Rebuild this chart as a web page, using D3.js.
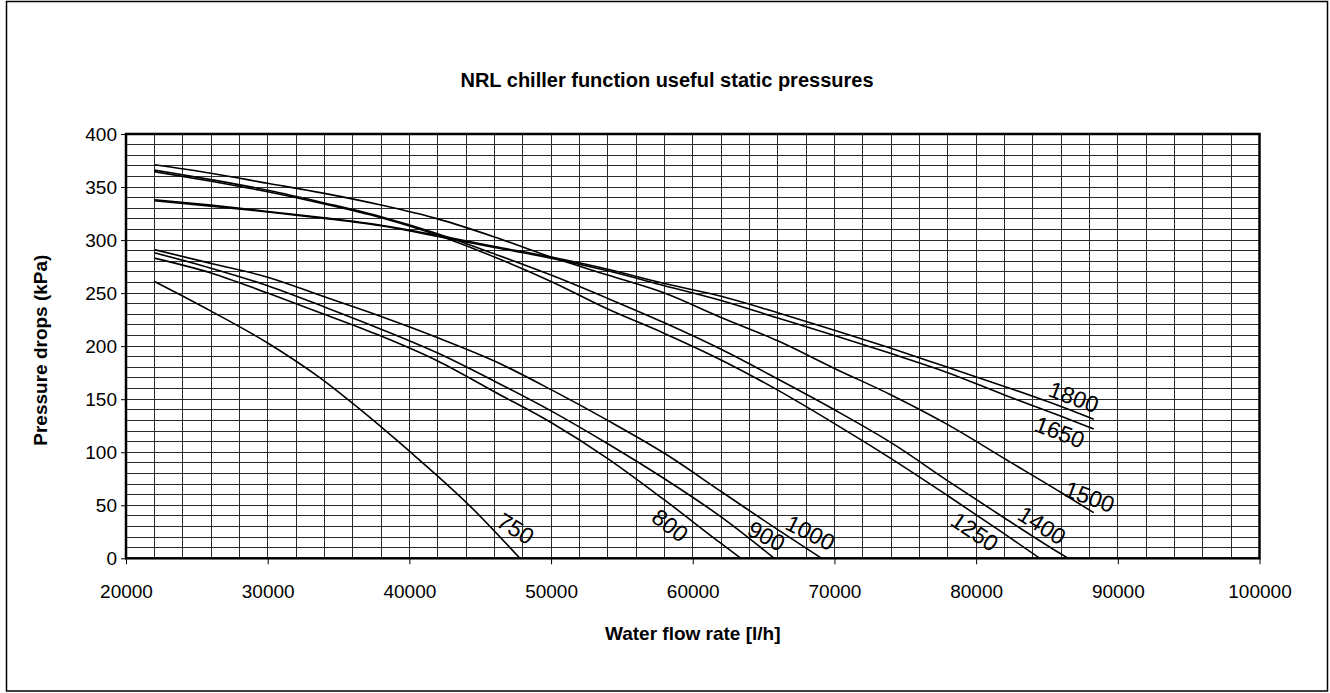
<!DOCTYPE html>
<html lang="en">
<head>
<meta charset="utf-8">
<title>NRL chiller function useful static pressures</title>
<script src="https://cdnjs.cloudflare.com/ajax/libs/d3/7.8.5/d3.min.js"></script>
<style>
	body { margin: 0; background: #fff; }
	svg text { font-family: "Liberation Sans", Arial, sans-serif; fill: #000; }
	.grid line { stroke: #2a2a2a; stroke-width: 1; shape-rendering: crispEdges; }
	.curve { fill: none; stroke: #000; stroke-width: 1.6; }
	.axis path, .axis line { stroke: #000; }
</style>
</head>
<body>
<div id="chart"></div>
<script>
// curve names (pump speed / model)
var speeds = ["750", "800", "900", "1000", "1250", "1400", "1500", "1650", "1800"];

// [water flow l/h, useful static pressure kPa]
var curve750 = [[22000, 261], [26000, 233], [30000, 203], [33700, 170], [36000, 146], [40000, 101], [44300, 49], [47800, 0]];
var curve800 = [[22000, 283], [26000, 269], [30000, 250], [34000, 230], [38000, 209.5], [42000, 186], [46000, 157], [50000, 128], [54000, 94], [58000, 55], [62000, 14], [63400, 0]];
var curve900 = [[22000, 288], [26000, 273.5], [30000, 257], [34000, 237], [38000, 216], [42000, 193.5], [46000, 167], [50000, 139], [54000, 108], [58000, 75], [62000, 39], [65750, 0]];
var curve1000 = [[22000, 291], [26000, 278], [30000, 265], [34000, 246.5], [38000, 228], [42000, 208], [46000, 186], [50000, 159], [54000, 130], [58000, 99], [62000, 63], [66000, 27], [69100, 0]];
var curve1250 = [[22000, 364.5], [26000, 355.5], [30000, 345.5], [34000, 334], [38000, 321], [42000, 304.5], [46000, 284], [50000, 261], [54000, 235], [58000, 212], [62000, 187], [66000, 158.5], [70000, 127], [74000, 94], [78000, 59], [82000, 23], [84500, 0]];
var curve1400 = [[22000, 366], [26000, 357], [30000, 347], [34000, 335], [38000, 322], [42000, 306], [46000, 287], [50000, 267], [54000, 245], [58000, 222], [62000, 197], [66000, 169], [70000, 140], [74000, 109], [78000, 73], [82000, 38], [86000, 4], [86500, 0]];
var curve1500 = [[22000, 371], [26000, 363], [30000, 353.5], [34000, 344], [38000, 333], [42000, 320], [46000, 303], [50000, 284], [54000, 267], [58000, 250], [62000, 227], [66000, 205], [70000, 179], [74000, 154], [78000, 126], [82000, 94], [86000, 62], [88300, 43]];
var curve1650 = [[22000, 337], [26000, 332], [30000, 326.5], [34000, 320.5], [38000, 313.5], [42000, 303.5], [46000, 293], [50000, 283], [54000, 271], [58000, 257], [62000, 243], [66000, 226.5], [70000, 210], [74000, 193], [78000, 175], [82000, 154], [86000, 134], [88300, 122]];
var curve1800 = [[22000, 338], [26000, 333], [30000, 327], [34000, 321], [38000, 314], [42000, 304.5], [46000, 294], [50000, 284], [54000, 272.5], [58000, 259], [62000, 247], [66000, 231.5], [70000, 215], [74000, 198], [78000, 180], [82000, 162], [86000, 143], [88300, 131]];

// where each curve name is written (flow, pressure)
var labelFlow = [47500, 58400, 65200, 68300, 79900, 84650, 88000, 85900, 86900];
var labelPressure = [28, 31, 21, 24, 25, 31, 58, 119, 152];

// axis ticks
var xTicks = [20000, 30000, 40000, 50000, 60000, 70000, 80000, 90000, 100000];
var yTicks = [0, 50, 100, 150, 200, 250, 300, 350, 400];

var curves = [curve750, curve800, curve900, curve1000, curve1250, curve1400, curve1500, curve1650, curve1800];

var width = 1330, height = 693;
var plotLeft = 126, plotRight = 1259.5, plotTop = 134, plotBottom = 558.3;

var svg = d3.select("#chart").append("svg")
	.attr("width", width)
	.attr("height", height);

// outer chart border
svg.append("rect")
	.attr("x", 6.5).attr("y", 1.5)
	.attr("width", 1321).attr("height", 689.5)
	.attr("fill", "none")
	.attr("stroke", "#000")
	.attr("stroke-width", 1.5);

var x = d3.scaleLinear().domain([20000, 100000]).range([plotLeft, plotRight]);
var y = d3.scaleLinear().domain([0, 400]).range([plotBottom, plotTop]);

//grid every 2000 l/h and every 10 kPa
var grid = svg.append("g").attr("class", "grid");
grid.selectAll(".vg")
	.data(d3.range(22000, 100000, 2000))
	.enter().append("line")
	.attr("x1", function(d) { return x(d); })
	.attr("x2", function(d) { return x(d); })
	.attr("y1", y(0)).attr("y2", y(400));
grid.selectAll(".hg")
	.data(d3.range(10, 400, 10))
	.enter().append("line")
	.attr("y1", function(d) { return y(d); })
	.attr("y2", function(d) { return y(d); })
	.attr("x1", x(20000)).attr("x2", x(100000));

// axes
var xAxis = svg.append("g")
	.attr("class", "axis")
	.attr("transform", "translate(0," + plotBottom + ")")
	.call(d3.axisBottom(x).tickValues(xTicks).tickFormat(d3.format("d")).tickSize(6).tickPadding(20));
xAxis.select(".domain").remove();
xAxis.selectAll("text").style("font-size", "19px");

var yAxis = svg.append("g")
	.attr("class", "axis")
	.attr("transform", "translate(" + plotLeft + ",0)")
	.call(d3.axisLeft(y).tickValues(yTicks).tickSize(5).tickPadding(4));
yAxis.select(".domain").remove();
yAxis.selectAll("text").style("font-size", "19px");

// plot frame
svg.append("rect")
	.attr("x", plotLeft).attr("y", plotTop)
	.attr("width", plotRight - plotLeft).attr("height", plotBottom - plotTop)
	.attr("fill", "none")
	.attr("stroke", "#000")
	.attr("stroke-width", 2.5);

// curves
var line = d3.line()
	.x(function(d) { return x(d[0]); })
	.y(function(d) { return y(d[1]); })
	.curve(d3.curveMonotoneX);

svg.selectAll(".curve")
	.data(curves)
	.enter().append("path")
	.attr("class", "curve")
	.attr("d", line);

// pressure on a curve at a given flow (linear between read points)
function pressureAt(c, f) {
	var fx = c.map(function(d) { return d[0]; });
	f = Math.max(fx[0], Math.min(fx[fx.length - 1], f));
	var i = Math.max(1, d3.bisectLeft(fx, f));
	var a = c[i - 1], b = c[i];
	return a[1] + (b[1] - a[1]) * (f - a[0]) / (b[0] - a[0]);
}

// curve names, turned along the local slope of their curve
speeds.forEach(function(name, i) {
	var c = curves[i];
	var f0 = labelFlow[i] - 1500, f1 = labelFlow[i] + 1500;
	var dx = x(f1) - x(f0);
	var dy = y(pressureAt(c, f1)) - y(pressureAt(c, f0));
	var angle = Math.atan2(dy, dx) * 180 / Math.PI;
	svg.append("text")
		.attr("transform", "translate(" + x(labelFlow[i]) + "," + y(labelPressure[i]) + ") rotate(" + angle + ")")
		.attr("text-anchor", "middle")
		.attr("dy", "0.35em")
		.style("font-size", "23px")
		.text(name);
});

// titles
svg.append("text")
	.attr("x", 667).attr("y", 87)
	.attr("text-anchor", "middle")
	.style("font-size", "20px")
	.style("font-weight", "bold")
	.text("NRL chiller function useful static pressures");

svg.append("text")
	.attr("x", (plotLeft + plotRight) / 2).attr("y", 640)
	.attr("text-anchor", "middle")
	.style("font-size", "19px")
	.style("font-weight", "bold")
	.text("Water flow rate [l/h]");

svg.append("text")
	.attr("transform", "translate(47," + ((plotTop + plotBottom) / 2 + 4) + ") rotate(-90)")
	.attr("text-anchor", "middle")
	.style("font-size", "19px")
	.style("font-weight", "bold")
	.text("Pressure drops (kPa)");
</script>
</body>
</html>
